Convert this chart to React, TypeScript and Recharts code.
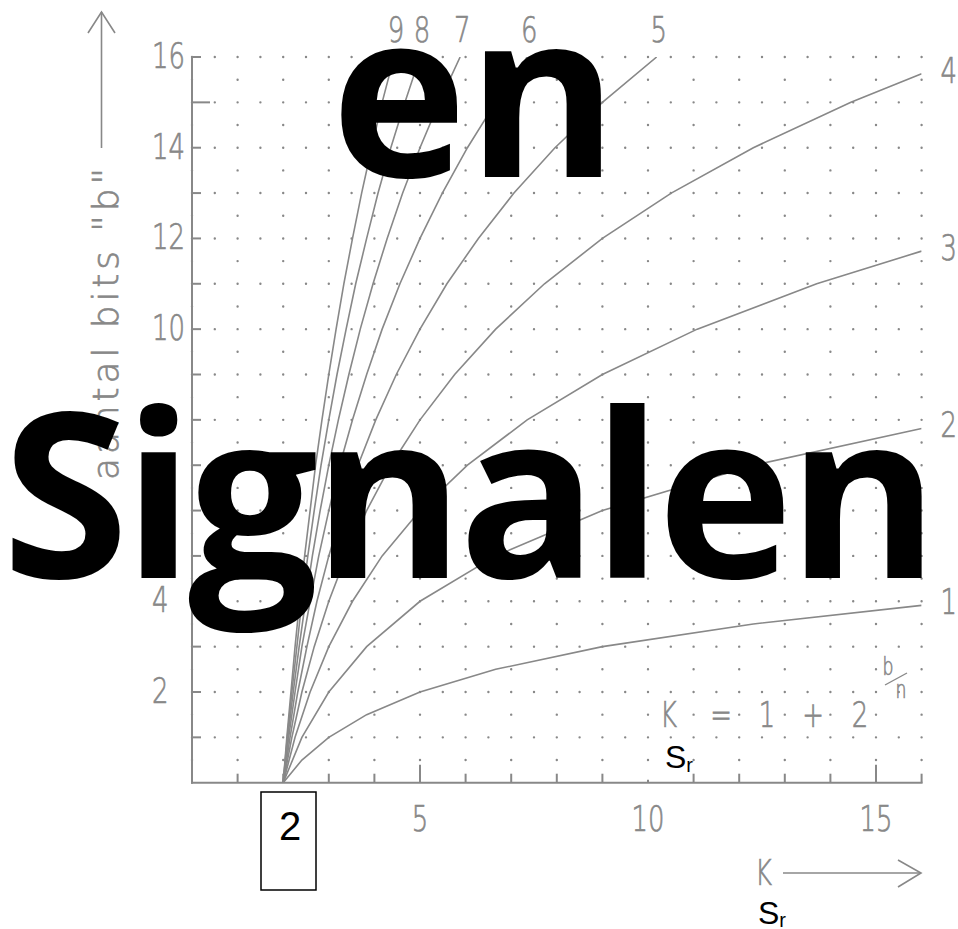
import { LineChart, Line, XAxis, YAxis, CartesianGrid } from 'recharts'

type Pt = [number, number]

// [K, b] points per curve, n = 1..9
const curve1: Pt[] = [[2, 0], [2.41, 0.5], [3, 1], [3.83, 1.5], [5, 2], [6.66, 2.5], [9, 3], [12.31, 3.5], [16, 3.91]]
const curve2: Pt[] = [[2, 0], [2.41, 1], [3, 2], [3.83, 3], [5, 4], [6.66, 5], [9, 6], [12.31, 7], [16, 7.81]]
const curve3: Pt[] = [[2, 0], [2.26, 1], [2.59, 2], [3, 3], [3.52, 4], [4.17, 5], [5, 6], [6.04, 7], [7.35, 8], [9, 9], [11.08, 10], [13.7, 11], [16, 11.72]]
const curve4: Pt[] = [[2, 0], [2.19, 1], [2.41, 2], [2.68, 3], [3, 4], [3.38, 5], [3.83, 6], [4.36, 7], [5, 8], [5.76, 9], [6.66, 10], [7.73, 11], [9, 12], [10.51, 13], [12.31, 14], [14.45, 15], [16, 15.63]]
const curve5: Pt[] = [[2, 0], [2.15, 1], [2.32, 2], [2.52, 3], [2.74, 4], [3, 5], [3.3, 6], [3.64, 7], [4.03, 8], [4.48, 9], [5, 10], [5.59, 11], [6.28, 12], [7.06, 13], [7.96, 14], [9, 15], [10.19, 16]]
const curve6: Pt[] = [[2, 0], [2.12, 1], [2.26, 2], [2.41, 3], [2.59, 4], [2.78, 5], [3, 6], [3.24, 7], [3.52, 8], [3.83, 9], [4.17, 10], [4.56, 11], [5, 12], [5.49, 13], [6.04, 14], [6.66, 15], [7.35, 16]]
const curve7: Pt[] = [[2, 0], [2.1, 1], [2.22, 2], [2.35, 3], [2.49, 4], [2.64, 5], [2.81, 6], [3, 7], [3.21, 8], [3.44, 9], [3.69, 10], [3.97, 11], [4.28, 12], [4.62, 13], [5, 14], [5.42, 15], [5.88, 16]]
const curve8: Pt[] = [[2, 0], [2.09, 1], [2.19, 2], [2.3, 3], [2.41, 4], [2.54, 5], [2.68, 6], [2.83, 7], [3, 8], [3.18, 9], [3.38, 10], [3.59, 11], [3.83, 12], [4.08, 13], [4.36, 14], [4.67, 15], [5, 16]]
const curve9: Pt[] = [[2, 0], [2.08, 1], [2.17, 2], [2.26, 3], [2.36, 4], [2.47, 5], [2.59, 6], [2.71, 7], [2.85, 8], [3, 9], [3.16, 10], [3.33, 11], [3.52, 12], [3.72, 13], [3.94, 14], [4.17, 15], [4.43, 16]]

const curves = [curve1, curve2, curve3, curve4, curve5, curve6, curve7, curve8, curve9]
const curveNames = ['1', '2', '3', '4', '5', '6', '7', '8', '9']

const xTicks = [1, 2, 3, 4, 5, 6, 7, 8, 9, 10, 11, 12, 13, 14, 15, 16]
const xTickLabels = [5, 10, 15]
const yTicks = [1, 2, 3, 4, 5, 6, 7, 8, 9, 10, 11, 12, 13, 14, 15, 16]
const yTickLabels = [2, 4, 6, 8, 10, 12, 14, 16]
const dotRowsFull = [1, 2, 3, 4, 5, 6, 7, 8, 9, 10, 11, 12, 13, 14, 15, 16]
const dotRowsHalf = [0.5, 1.5, 2.5, 3.5, 4.5, 5.5, 6.5, 7.5, 8.5, 9.5, 10.5, 11.5, 12.5, 13.5, 14.5, 15.5]

const W = 958
const H = 929
const PLOT_LEFT = 192
const PLOT_TOP = 57
const PLOT_RIGHT = 921.6
const PLOT_BOTTOM = 782.7
const Y_AXIS_W = 60
const X_AXIS_H = 30
const GRAY = '#888888'
const MAX = 16

const series = curves.map((c, i) => ({
  name: curveNames[i],
  data: c.map(([K, b]) => ({ K, b })),
}))

function GrayText({ x, y, anchor = 'start', size = 36, sx = 0.72, children }: any) {
  return (
    <text
      transform={`translate(${x} ${y}) scale(${sx} 1)`}
      textAnchor={anchor}
      fontFamily="DejaVu Sans"
      fontWeight={200}
      fontSize={size}
      fill={GRAY}
      stroke={GRAY}
      strokeWidth={0.7}
    >
      {children}
    </text>
  )
}

function XTick(props: any) {
  const { x, y, payload } = props
  const v = payload.value
  const len = v === 10 ? 3 : v % 5 === 0 ? 18 : 9
  return (
    <g>
      <line x1={x} y1={y} x2={x} y2={y - len} stroke={GRAY} strokeWidth={2} />
      {xTickLabels.includes(v) && (
        <GrayText x={x} y={y + 48} anchor="middle">{v}</GrayText>
      )}
    </g>
  )
}

function YTick(props: any) {
  const { x, y, payload } = props
  const v = payload.value
  const len = v === 15 ? 18 : 9
  return (
    <g>
      <line x1={x} y1={y} x2={x + len} y2={y} stroke={GRAY} strokeWidth={2} />
      {yTickLabels.includes(v) && (
        <GrayText x={x - 40} y={y + 11}>{v}</GrayText>
      )}
    </g>
  )
}

// dotted rows: every half K on whole b, every whole K on half b
function dotRow(perUnit: number) {
  return (props: any) => {
    const { x1, x2, y1, key } = props
    const step = (x2 - x1) / (MAX * perUnit)
    return (
      <line
        key={key}
        x1={x1}
        x2={x2}
        y1={y1}
        y2={y1}
        stroke={GRAY}
        strokeWidth={2.4}
        strokeLinecap="round"
        strokeDasharray={`0 ${step}`}
      />
    )
  }
}

const rowsToPx = (rows: number[]) => ({ offset }: any) =>
  rows.map((b) => offset.top + offset.height * (1 - b / MAX))

function curveLabel(name: string, last: number) {
  return (props: any) => {
    const { x, y, index } = props
    if (index !== last) return null
    const top = Number(name) >= 5
    return top ? (
      <GrayText key={name} x={x + 2} y={y - 15} anchor="middle">{name}</GrayText>
    ) : (
      <GrayText key={name} x={x + 19} y={y + 9}>{name}</GrayText>
    )
  }
}

export default function App() {
  return (
    <div style={{ position: 'absolute', left: 0, top: 0, width: W, height: H, background: '#fff' }}>
      <LineChart
        width={W}
        height={H}
        margin={{
          top: PLOT_TOP,
          right: W - PLOT_RIGHT,
          bottom: H - PLOT_BOTTOM - X_AXIS_H,
          left: PLOT_LEFT - Y_AXIS_W,
        }}
      >
        <CartesianGrid vertical={false} horizontal={dotRow(2)} horizontalCoordinatesGenerator={rowsToPx(dotRowsFull)} />
        <CartesianGrid vertical={false} horizontal={dotRow(1)} horizontalCoordinatesGenerator={rowsToPx(dotRowsHalf)} />
        <XAxis
          type="number"
          dataKey="K"
          domain={[0, MAX]}
          ticks={xTicks}
          interval={0}
          height={X_AXIS_H}
          tickSize={0}
          tickMargin={0}
          tickLine={false}
          tick={<XTick />}
          axisLine={{ stroke: GRAY, strokeWidth: 2, strokeLinecap: 'square' }}
          allowDataOverflow
        />
        <YAxis
          type="number"
          domain={[0, MAX]}
          ticks={yTicks}
          interval={0}
          width={Y_AXIS_W}
          tickSize={0}
          tickMargin={0}
          tickLine={false}
          tick={<YTick />}
          axisLine={{ stroke: GRAY, strokeWidth: 2, strokeLinecap: 'square' }}
          allowDataOverflow
        />
        {series.map((s) => (
          <Line
            key={s.name}
            data={s.data}
            dataKey="b"
            type="linear"
            stroke={GRAY}
            strokeWidth={1.6}
            dot={false}
            isAnimationActive={false}
            label={curveLabel(s.name, s.data.length - 1)}
          />
        ))}
      </LineChart>

      <svg width={W} height={H} style={{ position: 'absolute', left: 0, top: 0, pointerEvents: 'none' }}>
        {/* y axis title with arrow */}
        <line x1={101.5} y1={12} x2={101.5} y2={148} stroke={GRAY} strokeWidth={1.6} />
        <polyline points="88,33 101.5,12 115,33" fill="none" stroke={GRAY} strokeWidth={1.6} />
        <text
          transform="translate(118 324) rotate(-90)"
          textAnchor="middle"
          fontFamily="DejaVu Sans"
          fontWeight={200}
          fontSize={36}
          fill={GRAY}
          stroke={GRAY}
          strokeWidth={0.7}
          textLength={312}
          lengthAdjust="spacing"
        >
          aantal bits "b"
        </text>

        {/* x axis title with arrow */}
        <GrayText x={755} y={885}>K</GrayText>
        <line x1={783} y1={873} x2={921} y2={873} stroke={GRAY} strokeWidth={1.6} />
        <polyline points="898,860 921,873 898,887" fill="none" stroke={GRAY} strokeWidth={1.6} />

        {/* K = 1 + 2^(b/n) */}
        <GrayText x={660} y={727}>K</GrayText>
        <GrayText x={721} y={727} anchor="middle">=</GrayText>
        <GrayText x={767} y={727} anchor="middle">1</GrayText>
        <GrayText x={813} y={727} anchor="middle">+</GrayText>
        <GrayText x={860} y={727} anchor="middle">2</GrayText>
        <GrayText x={888} y={675} anchor="middle" size={24}>b</GrayText>
        <line x1={885} y1={685} x2={907} y2={673} stroke={GRAY} strokeWidth={1.4} />
        <GrayText x={901} y={698} anchor="middle" size={24}>n</GrayText>

        {/* black overlay lettering */}
        <text x={331} y={177} fontFamily="Open Sans" fontWeight={700} fontSize={230} fill="#000">en</text>
        <text
          x={2}
          y={578}
          fontFamily="Open Sans"
          fontWeight={700}
          fontSize={230}
          fill="#000"
          textLength={937}
          lengthAdjust="spacing"
        >
          Signalen
        </text>
        <rect x={261} y={792} width={55} height={98} fill="none" stroke="#000" strokeWidth={1.5} />
        <text x={290} y={840} textAnchor="middle" fontFamily="Liberation Sans" fontSize={40} fill="#000">2</text>
        <text x={665} y={768} fontFamily="Liberation Sans" fontSize={32} fill="#000">
          S<tspan fontSize={20} dy={4}>r</tspan>
        </text>
        <text x={758} y={924} fontFamily="Liberation Sans" fontSize={32} fill="#000">
          S<tspan fontSize={20} dy={3}>r</tspan>
        </text>
      </svg>
    </div>
  )
}
